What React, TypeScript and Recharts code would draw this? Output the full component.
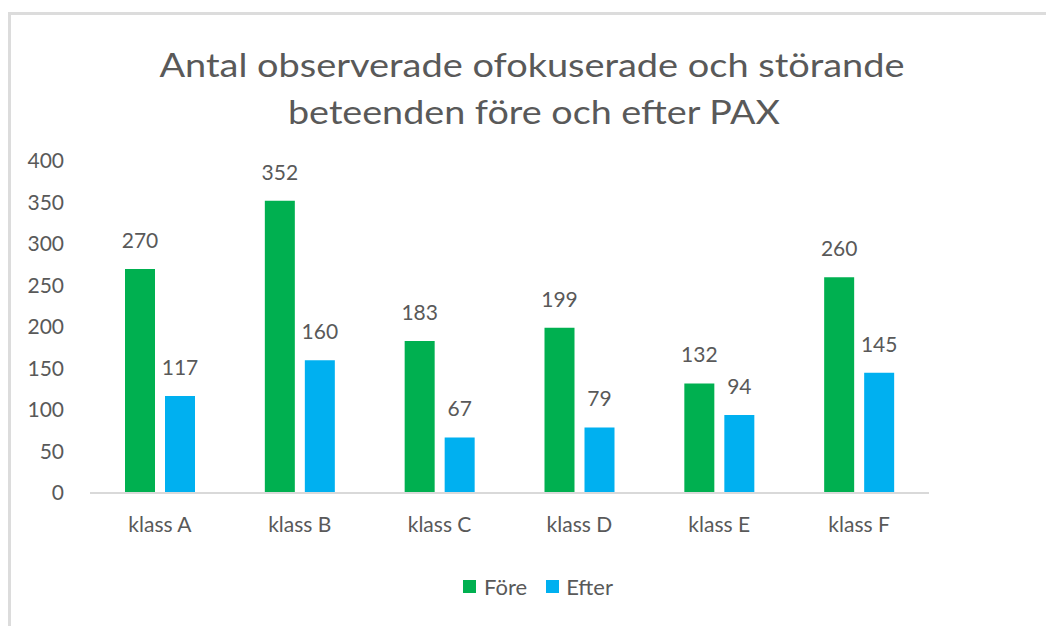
import React from 'react';
import { BarChart, Bar, XAxis, YAxis, Legend, LabelList } from 'recharts';

const classes = ['klass A', 'klass B', 'klass C', 'klass D', 'klass E', 'klass F'];
const fore = [270, 352, 183, 199, 132, 260];
const efter = [117, 160, 67, 79, 94, 145];
const yTicks = [0, 50, 100, 150, 200, 250, 300, 350, 400];
const titleLines = ['Antal observerade ofokuserade och störande', 'beteenden före och efter PAX'];

const data = classes.map((name, i) => ({ name, fore: fore[i], efter: efter[i] }));

const FONT = 'Lato, "Open Sans", sans-serif';
const TEXT = '#595959';
const GREEN = '#00b050';
const BLUE = '#00b0f0';

const renderLegend = () => (
  <div style={{ display: 'flex', justifyContent: 'center', alignItems: 'center', fontFamily: FONT, fontSize: 22, color: TEXT }}>
    <span style={{ width: 13, height: 13, background: GREEN, display: 'inline-block', marginRight: 8 }} />
    <span style={{ marginRight: 19 }}>Före</span>
    <span style={{ width: 13, height: 13, background: BLUE, display: 'inline-block', marginRight: 7 }} />
    <span>Efter</span>
  </div>
);

export default function App() {
  return (
    <div style={{ position: 'fixed', left: 0, top: 0, width: 1046, height: 626, background: '#fff', overflow: 'hidden' }}>
      <div
        style={{
          position: 'absolute', left: 8, top: 12, width: 1100, height: 700,
          borderTop: '3px solid #dcdcdc', borderLeft: '3px solid #dcdcdc',
        }}
      />
      <svg style={{ position: 'absolute', left: 0, top: 0 }} width={1046} height={140}>
        <text x={532} y={77} textAnchor="middle" fontFamily={FONT} fontSize={33} fill={TEXT}
          textLength={745} lengthAdjust="spacingAndGlyphs">{titleLines[0]}</text>
        <text x={534} y={124} textAnchor="middle" fontFamily={FONT} fontSize={33} fill={TEXT}
          textLength={492} lengthAdjust="spacingAndGlyphs">{titleLines[1]}</text>
      </svg>
      <div style={{ position: 'absolute', left: 0, top: 0 }}>
        <BarChart
          width={1046}
          height={626}
          data={data}
          margin={{ top: 161, right: 117, bottom: 65, left: 30 }}
          barSize={30}
          barGap={10}
        >
          <XAxis
            dataKey="name"
            axisLine={{ stroke: '#d9d9d9', strokeWidth: 2 }}
            tickLine={false}
            tickMargin={18}
            height={40}
            tick={{ fill: TEXT, fontSize: 21, fontFamily: FONT }}
          />
          <YAxis
            domain={[0, 400]}
            ticks={yTicks}
            axisLine={false}
            tickLine={false}
            tickMargin={20}
            width={60}
            tick={{ fill: TEXT, fontSize: 21, fontFamily: FONT }}
          />
          <Legend
            content={renderLegend}
            wrapperStyle={{ position: 'absolute', left: 0, top: 573, width: 1076, height: 28 }}
          />
          <Bar dataKey="fore" name="Före" fill={GREEN} isAnimationActive={false}>
            <LabelList dataKey="fore" position="top" offset={21} fill={TEXT} fontSize={21} fontFamily={FONT} />
          </Bar>
          <Bar dataKey="efter" name="Efter" fill={BLUE} isAnimationActive={false}>
            <LabelList dataKey="efter" position="top" offset={21} fill={TEXT} fontSize={21} fontFamily={FONT} />
          </Bar>
        </BarChart>
      </div>
    </div>
  );
}
